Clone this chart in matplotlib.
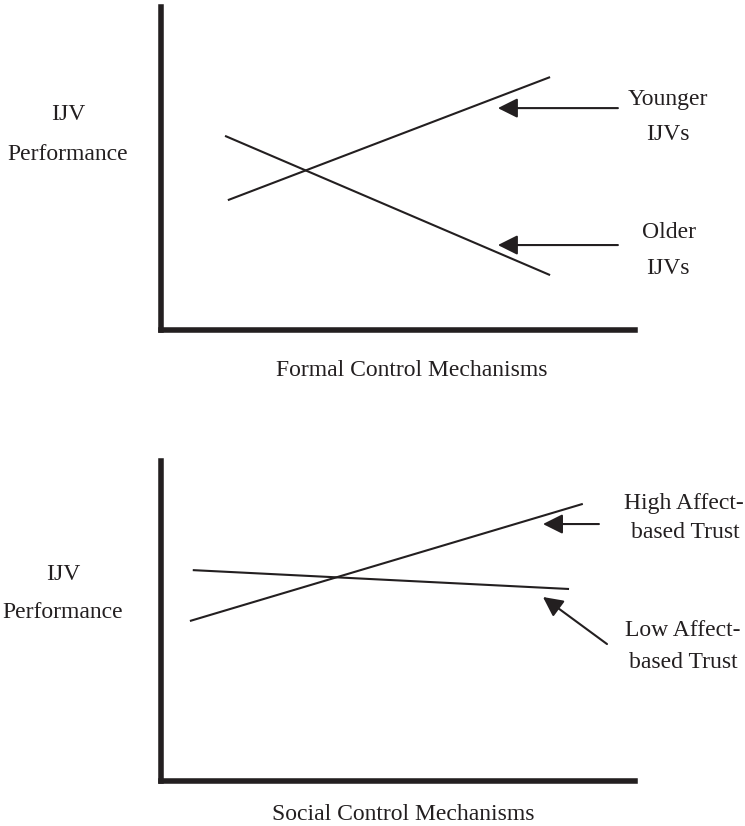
import matplotlib
matplotlib.use("Agg")
import matplotlib.pyplot as plt

# ---- data (arbitrary 0-10 units) ----
top_x_label = "Formal Control Mechanisms"
bottom_x_label = "Social Control Mechanisms"
y_label = ["IJV", "Performance"]

younger_x = [1.42, 8.21]
younger_y = [4.02, 7.83]
older_x = [1.36, 8.21]
older_y = [6.01, 1.70]

high_x = [0.62, 8.90]
high_y = [5.00, 8.66]
low_x = [0.68, 8.61]
low_y = [6.59, 6.00]

top_labels = ["Younger\n\nIJVs", "Older\n\nIJVs"]
bottom_labels = ["High Affect-\nbased Trust", "Low Affect-\nbased Trust"]

INK = "#231f20"
W, H = 745, 826
plt.rcParams["font.family"] = ["Liberation Serif", "DejaVu Serif"]

fig = plt.figure(figsize=(W / 100, H / 100), dpi=100)


def fx(px):
    return px / W


def fy(py):
    return 1 - py / H


def make_axes(left, top, right, bottom):
    ax = fig.add_axes([fx(left), fy(bottom), fx(right) - fx(left), fy(top) - fy(bottom)])
    ax.set_xlim(0, 10)
    ax.set_ylim(0, 10)
    for s in ["top", "right"]:
        ax.spines[s].set_visible(False)
    for s in ["left", "bottom"]:
        ax.spines[s].set_linewidth(4.0)
        ax.spines[s].set_color(INK)
        ax.spines[s].set_capstyle("projecting")
    ax.set_xticks([])
    ax.set_yticks([])
    ax.patch.set_alpha(0)
    return ax


def arrow(ax, tail, tip):
    ax.annotate("", xy=tip, xytext=tail, xycoords="data", textcoords="data",
                annotation_clip=False,
                arrowprops=dict(arrowstyle="-|>,head_length=0.6,head_width=0.3",
                                mutation_scale=20, lw=1.5, color=INK,
                                shrinkA=0, shrinkB=0))


FS = 17
# ---- top panel ----
ax1 = make_axes(160.5, 7, 635, 330)
ax1.plot(younger_x, younger_y, color=INK, lw=1.5, solid_capstyle="butt")
ax1.plot(older_x, older_y, color=INK, lw=1.5, solid_capstyle="butt")
arrow(ax1, (9.64, 6.87), (7.11, 6.87))
arrow(ax1, (9.64, 2.63), (7.11, 2.63))

fig.text(fx(668), fy(100), "Younger", ha="center", va="center", fontsize=FS, color=INK)
fig.text(fx(668), fy(135), "IJVs", ha="center", va="center", fontsize=FS, color=INK)
fig.text(fx(669), fy(233), "Older", ha="center", va="center", fontsize=FS, color=INK)
fig.text(fx(668), fy(268), "IJVs", ha="center", va="center", fontsize=FS, color=INK)
fig.text(fx(68), fy(115), y_label[0], ha="center", va="center", fontsize=FS, color=INK)
fig.text(fx(68), fy(155), y_label[1], ha="center", va="center", fontsize=FS, color=INK)
fig.text(fx(412), fy(370), top_x_label, ha="center", va="center", fontsize=FS, color=INK)

# ---- bottom panel ----
ax2 = make_axes(160.5, 461, 635, 781)
ax2.plot(high_x, high_y, color=INK, lw=1.5, solid_capstyle="butt")
ax2.plot(low_x, low_y, color=INK, lw=1.5, solid_capstyle="butt")
arrow(ax2, (9.24, 8.03), (8.06, 8.03))
arrow(ax2, (9.41, 4.28), (8.06, 5.75))

fig.text(fx(684), fy(503), "High Affect-", ha="center", va="center", fontsize=FS, color=INK)
fig.text(fx(685), fy(533), "based Trust", ha="center", va="center", fontsize=FS, color=INK)
fig.text(fx(683), fy(630), "Low Affect-", ha="center", va="center", fontsize=FS, color=INK)
fig.text(fx(683), fy(662), "based Trust", ha="center", va="center", fontsize=FS, color=INK)
fig.text(fx(63), fy(575), y_label[0], ha="center", va="center", fontsize=FS, color=INK)
fig.text(fx(63), fy(613), y_label[1], ha="center", va="center", fontsize=FS, color=INK)
fig.text(fx(403), fy(815), bottom_x_label, ha="center", va="center", fontsize=FS, color=INK)

fig.savefig("out.png", dpi=100, facecolor="white")
